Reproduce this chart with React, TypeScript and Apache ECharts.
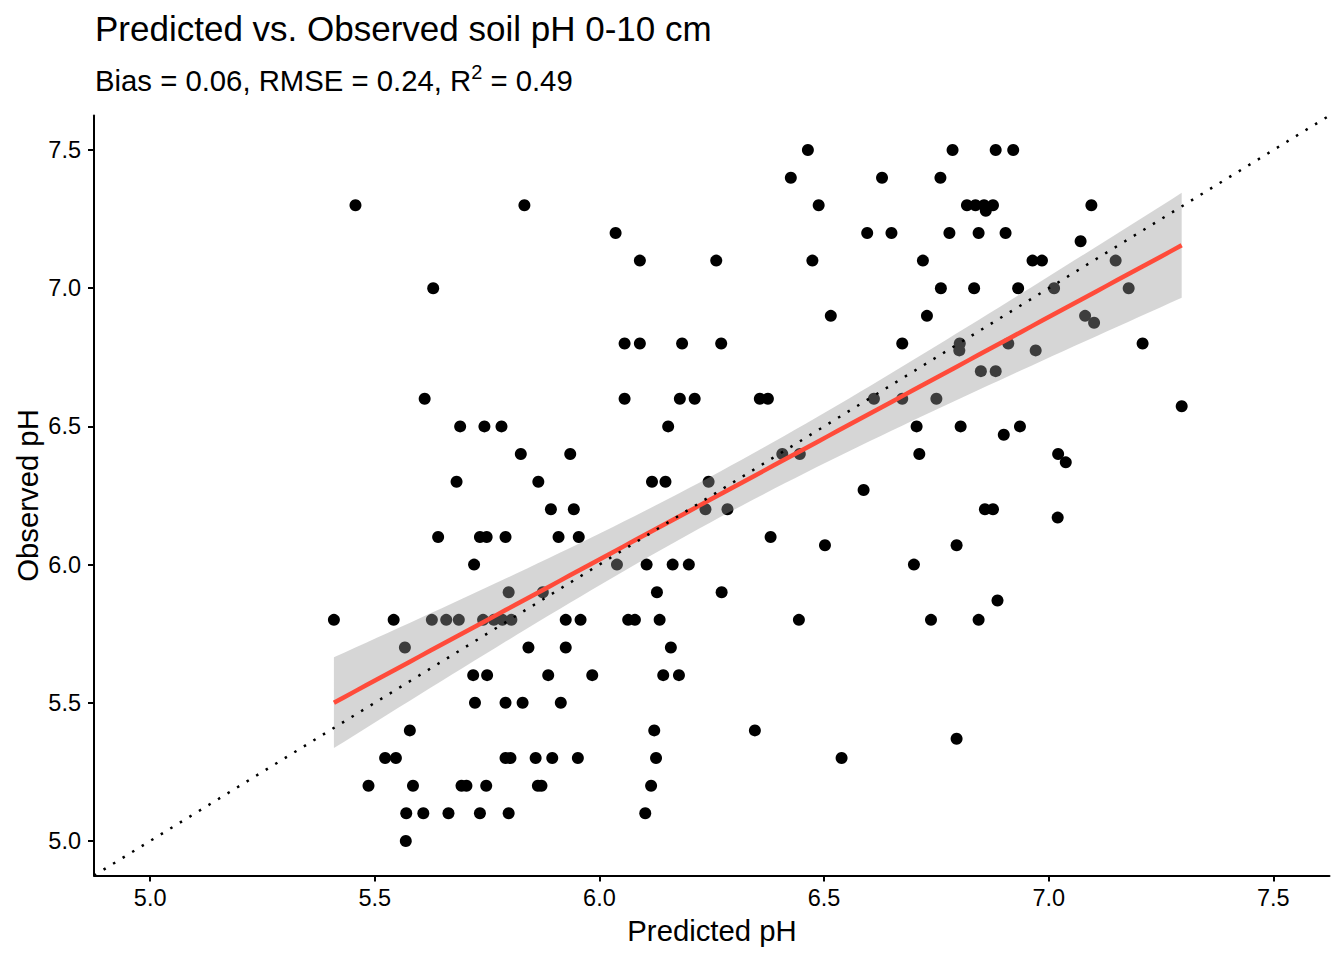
import React, { useEffect, useRef } from "react";
import * as echarts from "echarts";

// ---------- data ----------
const predicted: number[] = [
  // obs 7.5
  6.464, 6.786, 6.882, 6.921,
  // 7.4
  6.426, 6.629, 6.759,
  // 7.3
  5.457, 5.833, 6.488, 6.818, 6.837, 6.856, 6.876, 7.095,
  // 7.28
  6.86,
  // 7.2
  6.036, 6.596, 6.65, 6.779, 6.844, 6.904,
  // 7.17
  7.071,
  // 7.1
  6.09, 6.26, 6.474, 6.72, 6.964, 6.985, 7.149,
  // 7.0
  5.63, 6.76, 6.834, 6.932, 7.012, 7.178,
  // 6.9
  6.515, 6.729, 7.081,
  // 6.875
  7.101,
  // 6.8
  6.056, 6.09, 6.184, 6.271, 6.674, 6.802, 6.91, 7.209,
  // 6.775
  6.801, 6.971,
  // 6.7
  6.849, 6.882,
  // 6.6
  5.611, 6.056, 6.179, 6.212, 6.357, 6.375, 6.611, 6.674, 6.75,
  // 6.573
  7.296,
  // 6.5
  5.69, 5.744, 5.782, 6.153, 6.706, 6.804, 6.936,
  // 6.47
  6.9,
  // 6.4
  5.825, 5.935, 6.407, 6.446, 6.712, 7.021,
  // 6.37
  7.038,
  // 6.3
  5.682, 5.864, 6.117, 6.147, 6.243,
  // 6.27
  6.588,
  // 6.2
  5.892, 5.943, 6.236, 6.285, 6.858, 6.876,
  // 6.17
  7.02,
  // 6.1
  5.641, 5.734, 5.749, 5.791, 5.909, 5.954, 6.381,
  // 6.07
  6.502, 6.795,
  // 6.0
  5.721, 6.039, 6.105, 6.163, 6.199, 6.7,
  // 5.9
  5.798, 5.874, 6.128, 6.272,
  // 5.87
  6.886,
  // 5.8
  5.409, 5.542, 5.627, 5.659, 5.687, 5.741, 5.765, 5.784, 5.804, 5.925, 5.958,
  6.064, 6.079, 6.134, 6.444, 6.738, 6.844,
  // 5.7
  5.567, 5.842, 5.925, 6.159,
  // 5.6
  5.719, 5.75, 5.886, 5.984, 6.142, 6.177,
  // 5.5
  5.723, 5.791, 5.829, 5.914,
  // 5.4
  5.578, 6.122, 6.346,
  // 5.37
  6.795,
  // 5.3
  5.523, 5.547, 5.791, 5.802, 5.858, 5.895, 5.952, 6.126, 6.539,
  // 5.2
  5.486, 5.585, 5.693, 5.704, 5.748, 5.863, 5.871, 6.115,
  // 5.1
  5.57, 5.608, 5.664, 5.734, 5.798, 6.102,
  // 5.0
  5.569,
];

const observed: number[] = [
  7.5, 7.5, 7.5, 7.5,
  7.4, 7.4, 7.4,
  7.3, 7.3, 7.3, 7.3, 7.3, 7.3, 7.3, 7.3,
  7.28,
  7.2, 7.2, 7.2, 7.2, 7.2, 7.2,
  7.17,
  7.1, 7.1, 7.1, 7.1, 7.1, 7.1, 7.1,
  7.0, 7.0, 7.0, 7.0, 7.0, 7.0,
  6.9, 6.9, 6.9,
  6.875,
  6.8, 6.8, 6.8, 6.8, 6.8, 6.8, 6.8, 6.8,
  6.775, 6.775,
  6.7, 6.7,
  6.6, 6.6, 6.6, 6.6, 6.6, 6.6, 6.6, 6.6, 6.6,
  6.573,
  6.5, 6.5, 6.5, 6.5, 6.5, 6.5, 6.5,
  6.47,
  6.4, 6.4, 6.4, 6.4, 6.4, 6.4,
  6.37,
  6.3, 6.3, 6.3, 6.3, 6.3,
  6.27,
  6.2, 6.2, 6.2, 6.2, 6.2, 6.2,
  6.17,
  6.1, 6.1, 6.1, 6.1, 6.1, 6.1, 6.1,
  6.07, 6.07,
  6.0, 6.0, 6.0, 6.0, 6.0, 6.0,
  5.9, 5.9, 5.9, 5.9,
  5.87,
  5.8, 5.8, 5.8, 5.8, 5.8, 5.8, 5.8, 5.8, 5.8, 5.8, 5.8,
  5.8, 5.8, 5.8, 5.8, 5.8, 5.8,
  5.7, 5.7, 5.7, 5.7,
  5.6, 5.6, 5.6, 5.6, 5.6, 5.6,
  5.5, 5.5, 5.5, 5.5,
  5.4, 5.4, 5.4,
  5.37,
  5.3, 5.3, 5.3, 5.3, 5.3, 5.3, 5.3, 5.3, 5.3,
  5.2, 5.2, 5.2, 5.2, 5.2, 5.2, 5.2, 5.2,
  5.1, 5.1, 5.1, 5.1, 5.1, 5.1,
  5.0,
];

const tickValues: number[] = [5.0, 5.5, 6.0, 6.5, 7.0, 7.5];
const axisMin = 4.875;
const axisMax = 7.625;

const titleText = "Predicted vs. Observed soil pH 0-10 cm";
const subtitleText = "Bias = 0.06, RMSE = 0.24, R{sup|2} = 0.49";
const xTitle = "Predicted pH";
const yTitle = "Observed pH";

const FONT = '"Liberation Sans", Arial, Helvetica, sans-serif';

// ---------- linear fit (geom_smooth method = "lm") ----------
function linearFit(xs: number[], ys: number[]) {
  const n = Math.min(xs.length, ys.length);
  let sx = 0, sy = 0;
  for (let i = 0; i < n; i++) { sx += xs[i]; sy += ys[i]; }
  const xbar = sx / n, ybar = sy / n;
  let sxx = 0, sxy = 0;
  for (let i = 0; i < n; i++) {
    sxx += (xs[i] - xbar) ** 2;
    sxy += (xs[i] - xbar) * (ys[i] - ybar);
  }
  const b = sxy / sxx;
  const a = ybar - b * xbar;
  let sse = 0;
  for (let i = 0; i < n; i++) sse += (ys[i] - (a + b * xs[i])) ** 2;
  const s = Math.sqrt(sse / (n - 2));
  const t = 1.974;
  const xmin = Math.min(...xs.slice(0, n));
  const xmax = Math.max(...xs.slice(0, n));
  const upper: number[][] = [];
  const lower: number[][] = [];
  const line: number[][] = [];
  const steps = 80;
  for (let k = 0; k < steps; k++) {
    const x = xmin + ((xmax - xmin) * k) / (steps - 1);
    const yhat = a + b * x;
    const se = s * Math.sqrt(1 / n + (x - xbar) ** 2 / sxx);
    upper.push([x, yhat + t * se]);
    lower.push([x, yhat - t * se]);
    line.push([x, yhat]);
  }
  return { upper, lower, line, n };
}

export default function App() {
  const ref = useRef<HTMLDivElement>(null);

  useEffect(() => {
    if (!ref.current) return;
    const chart = echarts.init(ref.current, undefined, { renderer: "svg" });
    const fit = linearFit(predicted, observed);
    const points = predicted.slice(0, fit.n).map((x, i) => [x, observed[i]]);

    const axisCommon = {
      type: "value" as const,
      min: axisMin,
      max: axisMax,
      splitLine: { show: false },
      axisLine: { show: true, onZero: false, lineStyle: { color: "#000", width: 2 } },
      axisTick: {
        show: true,
        length: 6,
        customValues: tickValues,
        lineStyle: { color: "#000", width: 2 },
      },
    };

    chart.setOption({
      animation: false,
      backgroundColor: "#ffffff",
      grid: { left: 94, top: 115.5, width: 1235.5, height: 760, containLabel: false },
      xAxis: {
        ...axisCommon,
        axisLabel: {
          customValues: tickValues,
          formatter: (v: number) => v.toFixed(1),
          color: "#000",
          fontSize: 23.5,
          fontFamily: FONT,
          margin: 10,
        },
      },
      yAxis: {
        ...axisCommon,
        axisLabel: {
          customValues: tickValues,
          formatter: (v: number) => v.toFixed(1),
          color: "#000",
          fontSize: 23.5,
          fontFamily: FONT,
          margin: 13,
        },
      },
      graphic: [
        {
          type: "text",
          x: 95,
          y: 28,
          style: {
            text: titleText,
            fontSize: 35,
            fontFamily: FONT,
            fill: "#000",
            align: "left",
            verticalAlign: "middle",
          },
        },
        {
          type: "text",
          x: 95,
          y: 80,
          style: {
            text: subtitleText,
            fontSize: 29.3,
            fontFamily: FONT,
            fill: "#000",
            align: "left",
            verticalAlign: "middle",
            rich: {
              sup: { fontSize: 20, fontFamily: FONT, fill: "#000", padding: [0, 0, 16, 0] },
            },
          },
        },
        {
          type: "text",
          x: 712,
          y: 930,
          style: {
            text: xTitle,
            fontSize: 29.3,
            fontFamily: FONT,
            fill: "#000",
            align: "center",
            verticalAlign: "middle",
          },
        },
        {
          type: "text",
          x: 27,
          y: 495.5,
          rotation: Math.PI / 2,
          style: {
            text: yTitle,
            fontSize: 29.3,
            fontFamily: FONT,
            fill: "#000",
            align: "center",
            verticalAlign: "middle",
          },
        },
      ],
      series: [
        {
          type: "scatter",
          z: 2,
          data: points,
          symbol: "circle",
          symbolSize: 12,
          itemStyle: { color: "#000", opacity: 1 },
          silent: true,
        },
        {
          type: "custom",
          z: 3,
          silent: true,
          data: [fit.line[0]],
          renderItem: (_params: any, api: any) => {
            const pts = fit.upper
              .map((p) => api.coord(p))
              .concat(fit.lower.slice().reverse().map((p) => api.coord(p)));
            return {
              type: "polygon",
              shape: { points: pts },
              style: { fill: "rgba(153,153,153,0.4)", stroke: "none" },
            };
          },
        },
        {
          type: "line",
          z: 4,
          data: fit.line,
          showSymbol: false,
          symbol: "none",
          lineStyle: { color: "#FF4B3A", width: 4.5 },
          silent: true,
        },
        {
          type: "line",
          z: 5,
          data: [
            [axisMin, axisMin],
            [axisMax, axisMax],
          ],
          showSymbol: false,
          symbol: "none",
          lineStyle: { color: "#000", width: 2.5, type: [2.5, 8.7] },
          silent: true,
        },
      ],
    });

    return () => chart.dispose();
  }, []);

  return (
    <div
      ref={ref}
      style={{ position: "absolute", left: 0, top: 0, width: 1344, height: 960 }}
    />
  );
}
